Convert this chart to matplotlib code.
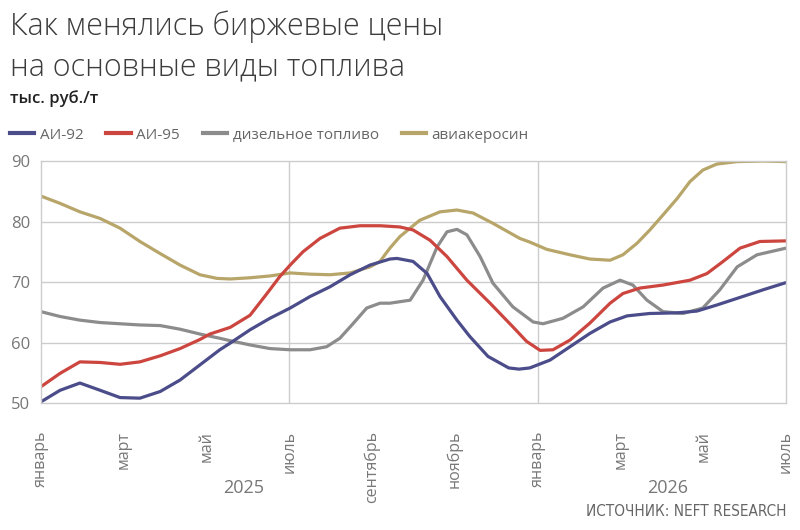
import matplotlib
matplotlib.use("Agg")
import matplotlib.pyplot as plt
from matplotlib.lines import Line2D
from matplotlib import font_manager

plt.rcParams['font.family'] = ['Open Sans', 'DejaVu Sans']

# months counted from January 2025 (0) to July 2026 (18)
ai92_x = [0, 0.46, 0.94, 1.43, 1.91, 2.39, 2.88, 3.36, 3.84, 4.32, 4.57, 5.05, 5.53, 6.02, 6.5,
          6.98, 7.47, 7.95, 8.43, 8.6, 8.99, 9.33, 9.64, 10.05, 10.36, 10.8, 11.3, 11.55, 11.81,
          12.3, 12.78, 13.26, 13.75, 14.16, 14.71, 15.37, 15.85, 16.33, 16.82, 17.44, 18]
ai92_y = [50.2, 52.1, 53.3, 52.1, 50.9, 50.8, 51.9, 53.8, 56.3, 58.8, 59.9, 62.1, 64.0, 65.7, 67.6,
          69.2, 71.2, 72.8, 73.8, 73.9, 73.4, 71.4, 67.6, 63.7, 61.0, 57.7, 55.8, 55.6, 55.8,
          57.1, 59.3, 61.5, 63.4, 64.4, 64.8, 64.9, 65.2, 66.2, 67.3, 68.7, 69.9]

ai95_x = [0, 0.46, 0.94, 1.43, 1.91, 2.39, 2.88, 3.36, 3.84, 4.08, 4.57, 5.05, 5.46, 5.77, 6.02,
          6.33, 6.74, 7.22, 7.71, 8.2, 8.67, 8.99, 9.4, 9.81, 10.29, 10.85, 11.4, 11.73, 12.06,
          12.37, 12.78, 13.26, 13.75, 14.06, 14.47, 15.03, 15.68, 16.09, 16.48, 16.89, 17.37, 18]
ai95_y = [52.7, 54.9, 56.8, 56.7, 56.4, 56.8, 57.8, 59.0, 60.5, 61.4, 62.5, 64.5, 68.1, 70.9, 72.8,
          75.0, 77.2, 78.9, 79.3, 79.3, 79.1, 78.6, 76.9, 74.2, 70.3, 66.5, 62.6, 60.2, 58.7,
          58.8, 60.4, 63.2, 66.5, 68.1, 69.0, 69.5, 70.3, 71.4, 73.4, 75.6, 76.7, 76.8]

diesel_x = [0, 0.46, 0.94, 1.43, 1.91, 2.39, 2.88, 3.36, 3.84, 4.32, 4.57, 5.05, 5.53, 6.02, 6.5,
            6.9, 7.22, 7.55, 7.87, 8.19, 8.43, 8.92, 9.23, 9.57, 9.81, 10.05, 10.29, 10.61,
            10.92, 11.4, 11.89, 12.13, 12.61, 13.1, 13.58, 13.99, 14.3, 14.64, 15.03, 15.51,
            15.99, 16.4, 16.82, 17.3, 18]
diesel_y = [65.1, 64.3, 63.7, 63.3, 63.1, 62.9, 62.8, 62.2, 61.4, 60.7, 60.3, 59.6, 59.0, 58.8, 58.8,
            59.3, 60.7, 63.2, 65.7, 66.5, 66.5, 67.0, 70.3, 75.8, 78.3, 78.7, 77.8, 74.2,
            69.8, 65.9, 63.4, 63.1, 64.0, 65.9, 69.0, 70.3, 69.5, 67.0, 65.1, 64.8,
            65.7, 68.7, 72.5, 74.5, 75.6]

jet_x = [0, 0.46, 0.94, 1.43, 1.91, 2.39, 2.88, 3.36, 3.84, 4.25, 4.57, 5.05, 5.53, 6.02, 6.5,
         6.98, 7.47, 7.95, 8.19, 8.43, 8.67, 9.15, 9.64, 10.05, 10.44, 10.92, 11.57, 11.81,
         12.22, 12.78, 13.26, 13.75, 14.06, 14.4, 14.71, 15.03, 15.37, 15.68, 15.99, 16.33,
         16.82, 17.44, 18]
jet_y = [84.2, 83.0, 81.6, 80.5, 78.9, 76.7, 74.7, 72.8, 71.2, 70.6, 70.5, 70.7, 71.0, 71.5, 71.3,
         71.2, 71.5, 72.5, 73.4, 75.6, 77.5, 80.2, 81.6, 81.9, 81.4, 79.7, 77.2, 76.6,
         75.4, 74.5, 73.8, 73.6, 74.5, 76.4, 78.6, 81.1, 83.8, 86.6, 88.5, 89.5,
         89.9, 90.0, 89.9]

tick_pos = [0, 2, 4, 6, 8, 10, 12, 14, 16, 18]
tick_labels = ['январь', 'март', 'май', 'июль', 'сентябрь', 'ноябрь',
               'январь', 'март', 'май', 'июль']

c92 = '#4b4c8a'
c95 = '#cc453f'
cdiesel = '#8c8c8c'
cjet = '#b7a569'
grid_c = '#cccccc'
txt_c = '#777777'

fig = plt.figure(figsize=(8, 5.3), dpi=100)
ax = fig.add_axes([0.05125, 0.2396, 0.93125, 0.4566])

lw = 2.3
for xs, ys, c in [(jet_x, jet_y, cjet), (diesel_x, diesel_y, cdiesel),
                  (ai95_x, ai95_y, c95), (ai92_x, ai92_y, c92)]:
    ax.plot(xs, ys, color=c, lw=lw, solid_capstyle='round', solid_joinstyle='round')

ax.set_xlim(0, 18)
ax.set_ylim(50, 90)
ax.set_yticks([50, 60, 70, 80, 90])
ax.set_xticks(tick_pos)
ax.set_xticklabels(tick_labels, rotation=90, va='top', ha='center')
ax.tick_params(axis='both', length=0, colors=txt_c, labelsize=12)
ax.tick_params(axis='x', pad=20, labelsize=11.5)
ax.tick_params(axis='y', pad=8)

for s in ax.spines.values():
    s.set_color(grid_c)
    s.set_linewidth(1)
for v in [60, 70, 80]:
    ax.axhline(v, color=grid_c, lw=1, zorder=0)
for m in [6, 12]:
    ax.axvline(m, color=grid_c, lw=1, zorder=0)

fig.text(244 / 800, 1 - 488 / 530, '2025', ha='center', va='center', fontsize=13, color=txt_c)
fig.text(668 / 800, 1 - 488 / 530, '2026', ha='center', va='center', fontsize=13, color=txt_c)

fig.text(10 / 800, 1 - 27 / 530, 'Как менялись биржевые цены', fontsize=22, color='#3c3c3c',
         va='center', ha='left', fontweight='light')
fig.text(10 / 800, 1 - 67 / 530, 'на основные виды топлива', fontsize=22, color='#3c3c3c',
         va='center', ha='left', fontweight='light')
fig.text(10 / 800, 1 - 99 / 530, 'тыс. руб./т', fontsize=12, color='#222222',
         va='center', ha='left', fontweight='semibold')

handles = [Line2D([], [], color=c92, lw=3), Line2D([], [], color=c95, lw=3),
           Line2D([], [], color=cdiesel, lw=3), Line2D([], [], color=cjet, lw=3)]
names = ['АИ-92', 'АИ-95', 'дизельное топливо', 'авиакеросин']
fig.legend(handles, names, loc='center left', bbox_to_anchor=(10 / 800, 1 - 135 / 530), ncol=4,
           frameon=False, fontsize=11, handlelength=1.6, handletextpad=0.35, columnspacing=1.5,
           borderpad=0, borderaxespad=0, labelcolor='#666666')

# narrow face for the source line if the condensed DejaVu file is there
cond = font_manager.FontProperties(family='DejaVu Sans', stretch='condensed')
src_size = 11 if 'Condensed' in font_manager.findfont(cond) else 9.5
fig.text(786 / 800, 1 - 512 / 530, 'ИСТОЧНИК: NEFT RESEARCH', ha='right', va='center',
         fontsize=src_size, color='#666666', family='DejaVu Sans', fontstretch='condensed')

fig.savefig('out.png', dpi=100)
